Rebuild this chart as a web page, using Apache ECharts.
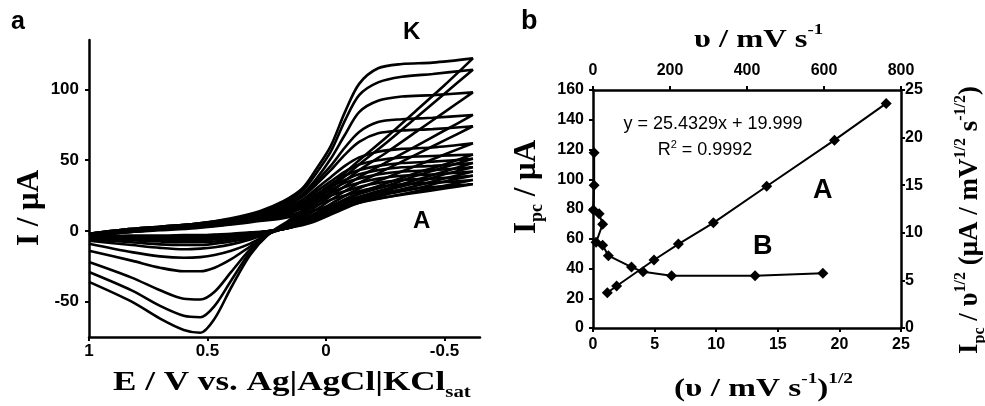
<!DOCTYPE html>
<html><head><meta charset="utf-8">
<script src="https://cdn.jsdelivr.net/npm/echarts@6/dist/echarts.min.js"></script>
<style>html,body{margin:0;padding:0;background:#fff}#c{width:985px;height:406px}</style>
</head><body><div id="c"></div>
<script>
// ---------- Panel a: cyclic voltammograms ----------
const E_fwd = [1.0, 0.85, 0.7, 0.55, 0.4, 0.28, 0.18, 0.1, 0.04, -0.02, -0.08, -0.14, -0.22, -0.32, -0.45, -0.62];
const E_rev = [-0.62, -0.5, -0.38, -0.26, -0.14, -0.04, 0.06, 0.16, 0.24, 0.32, 0.4, 0.47, 0.53, 0.6, 0.7, 0.82, 1.0];
const cvForward = [
  [-2, 1, 3, 5, 9, 14, 21, 30, 44, 60, 84, 104, 115, 118, 119, 122],
  [-2, 1, 3, 5, 8.5, 13, 20, 28, 41, 56, 78, 96, 105, 109, 111, 114],
  [-2, 1, 3, 5, 8, 12, 19, 26, 37, 51, 68, 84, 92, 95, 96, 98],
  [-2, 0.5, 2.5, 4.5, 8, 12, 18, 25, 35, 46, 59, 70, 77, 79, 80, 82],
  [-2, 0.5, 2.5, 4.5, 7.5, 11, 17, 24, 33, 43, 54, 63, 69, 71, 72, 74],
  [-2.5, 0, 2, 4, 7, 11, 16, 22, 30, 38, 46, 52, 56, 58, 59, 62],
  [-2.5, 0, 2, 4, 7, 10, 15, 21, 28, 35, 42, 47, 50, 52, 53, 54],
  [-2.5, 0, 2, 4, 6.5, 10, 15, 20, 26, 33, 39, 43, 46, 48, 49, 51],
  [-3, -0.5, 1.5, 3.5, 6, 9.5, 14, 19, 25, 31, 36, 40, 43, 45, 46, 48],
  [-3, -0.5, 1.5, 3.5, 6, 9, 13, 18, 24, 29, 34, 37, 40, 42, 43, 45],
  [-3, -0.5, 1.5, 3, 5.5, 8.5, 12, 17, 22, 27, 31, 34, 37, 39, 40, 42],
  [-3, -1, 1, 3, 5, 8, 11, 16, 20, 25, 28, 31, 34, 36, 37, 39],
  [-3.5, -1, 1, 2.5, 5, 7.5, 10, 14, 18, 22, 25, 28, 31, 33, 34, 36],
  [-3.5, -1, 0.5, 2, 4.5, 7, 9, 12, 15, 18, 21, 24, 27, 29, 31, 33]
];
const cvReverse = [
  [122, 103, 85, 67, 50, 35, 20, 7, -2, -17, -40, -62, -72, -70, -62, -50, -36],
  [114, 97, 80, 63, 47, 33, 19, 6, -2, -15, -35, -53, -61, -60, -53, -42, -29],
  [98, 84, 70, 56, 43, 30, 17, 5, -2, -13, -29, -43, -48.5, -48, -42, -33, -22],
  [82, 71, 60, 49, 38, 27, 15, 4, -2, -11, -20, -26, -28.5, -28.5, -26, -21, -14],
  [74, 64, 54, 44, 34, 24, 13, 3, -2, -9, -14, -17, -18.5, -19, -18, -15, -9],
  [62, 54, 46, 38, 30, 21, 11, 3, -1.5, -6, -9.5, -11.5, -12.5, -13, -12, -10, -7],
  [54, 47, 41, 34, 27, 19, 10, 3, -1, -5, -7.5, -9, -10, -10, -9.5, -8, -6],
  [51, 45, 39, 32, 26, 18, 9, 2.5, -1, -4, -6, -7.5, -8, -8, -7.5, -6.5, -5],
  [48, 42, 36, 30, 24, 17, 9, 2, -0.5, -3.5, -5, -6, -6.5, -7, -6.5, -6, -5],
  [45, 40, 34, 29, 23, 16, 8, 2, -0.5, -3, -4.5, -5.5, -6, -6, -5.5, -5, -4],
  [42, 37, 32, 27, 22, 15, 8, 2, 0, -2.5, -4, -4.5, -5, -5, -5, -4.5, -4],
  [39, 35, 30, 26, 21, 14, 7, 2, 0, -2, -3, -3.5, -4, -4, -4, -4, -4],
  [36, 32, 28, 24, 20, 14, 7, 2, 0, -1.5, -2.5, -3, -3.5, -3.5, -3.5, -3.5, -4],
  [33, 30, 27, 24, 20, 13, 6, 2, 0, -1, -2, -2.5, -3, -3, -3.5, -3.5, -4]
];
const aTicksX = [1, 0.5, 0, -0.5];
const aTicksY = [-50, 0, 50, 100];

// ---------- Panel b ----------
const sqrtV_A = [1.16, 1.92, 4.95, 6.93, 9.77, 14.1, 19.6, 23.8];
const ipc_A   = [23.7, 28.2, 45.7, 56.4, 70.7, 95.3, 126.3, 151];
const v_B     = [3, 3, 1, 16, 25, 8, 25, 40, 100, 130, 204, 421, 597];
const ipcNorm_B = [18.4, 15.0, 12.4, 12.0, 10.9, 9.0, 8.7, 7.6, 6.4, 5.9, 5.5, 5.5, 5.75];

const SERIF = '"Liberation Serif", "DejaVu Serif", serif';
const SANS = '"Liberation Sans", Arial, sans-serif';
const BLACK = '#000';

const chart = echarts.init(document.getElementById('c'), null, {renderer: 'canvas'});

const cvSeries = cvForward.map((f, i) => ({
  type: 'line', xAxisIndex: 0, yAxisIndex: 0, symbol: 'none', smooth: 0.3,
  lineStyle: {color: BLACK, width: 2.6}, silent: true, animation: false,
  data: E_fwd.map((e, j) => [e, f[j]]).concat(E_rev.slice(1).map((e, j) => [e, cvReverse[i][j + 1]]))
}));

const tickLbl = (size) => ({color: BLACK, fontSize: size, fontWeight: 'bold', fontFamily: SANS});
const axLine = {show: true, onZero: false, lineStyle: {color: BLACK, width: 2.5}};

const rich = (size) => ({
  m: {fontSize: size, fontFamily: SERIF, fontWeight: 'bold', fill: BLACK, color: BLACK, lineHeight: size + 8},
  sup: {fontSize: Math.round(size * 0.58), fontFamily: SERIF, fontWeight: 'bold', fill: BLACK, color: BLACK, verticalAlign: 'top', lineHeight: Math.round(size * 0.6)},
  sub: {fontSize: Math.round(size * 0.58), fontFamily: SERIF, fontWeight: 'bold', fill: BLACK, color: BLACK, verticalAlign: 'bottom', lineHeight: Math.round(size * 0.6)}
});

const option = {
  backgroundColor: '#fff',
  animation: false,
  grid: [
    {left: 89, top: 40, width: 391, height: 297},
    {left: 593, top: 90, width: 308, height: 238}
  ],
  xAxis: [
    {gridIndex: 0, type: 'value', inverse: true, min: -0.65, max: 1,
     axisLine: axLine, splitLine: {show: false},
     axisTick: {customValues: aTicksX, length: 4, lineStyle: {color: BLACK, width: 2}},
     axisLabel: Object.assign({customValues: aTicksX, margin: 6, formatter: v => String(v)}, tickLbl(17))},
    {gridIndex: 1, type: 'value', position: 'bottom', min: 0, max: 25, interval: 5,
     axisLine: axLine, splitLine: {show: false},
     axisTick: {length: 4, lineStyle: {color: BLACK, width: 2}},
     axisLabel: Object.assign({margin: 9}, tickLbl(16))},
    {gridIndex: 1, type: 'value', position: 'top', min: 0, max: 800, interval: 200,
     axisLine: axLine, splitLine: {show: false},
     axisTick: {length: 4, lineStyle: {color: BLACK, width: 2}},
     axisLabel: Object.assign({margin: 11}, tickLbl(16))}
  ],
  yAxis: [
    {gridIndex: 0, type: 'value', min: -75, max: 135,
     axisLine: axLine, splitLine: {show: false},
     axisTick: {customValues: aTicksY, length: 4, lineStyle: {color: BLACK, width: 2}},
     axisLabel: Object.assign({customValues: aTicksY, margin: 10}, tickLbl(17))},
    {gridIndex: 1, type: 'value', position: 'left', min: 0, max: 160, interval: 20,
     axisLine: axLine, splitLine: {show: false},
     axisTick: {length: 4, lineStyle: {color: BLACK, width: 2}},
     axisLabel: Object.assign({margin: 9}, tickLbl(16))},
    {gridIndex: 1, type: 'value', position: 'right', min: 0, max: 25, interval: 5,
     axisLine: axLine, splitLine: {show: false},
     axisTick: {length: 4, lineStyle: {color: BLACK, width: 2}},
     axisLabel: Object.assign({margin: 4}, tickLbl(16))}
  ],
  series: cvSeries.concat([
    {type: 'line', xAxisIndex: 1, yAxisIndex: 1, symbol: 'diamond', symbolSize: 11,
     itemStyle: {color: BLACK}, lineStyle: {color: BLACK, width: 2},
     data: sqrtV_A.map((x, i) => [x, ipc_A[i]])},
    {type: 'line', xAxisIndex: 2, yAxisIndex: 2, symbol: 'diamond', symbolSize: 11,
     itemStyle: {color: BLACK}, lineStyle: {color: BLACK, width: 2},
     data: v_B.map((x, i) => [x, ipcNorm_B[i]])}
  ]),
  graphic: [
    {type: 'text', x: 11, y: 10, style: {text: 'a', font: 'bold 25px ' + SANS, fill: BLACK}},
    {type: 'text', x: 403, y: 20, style: {text: 'K', font: 'bold 24px ' + SANS, fill: BLACK}},
    {type: 'text', x: 413, y: 209, style: {text: 'A', font: 'bold 24px ' + SANS, fill: BLACK}},
    {type: 'text', x: 521, y: 8, style: {text: 'b', font: 'bold 27px ' + SANS, fill: BLACK}},
    {type: 'text', x: 813, y: 177, style: {text: 'A', font: 'bold 27px ' + SANS, fill: BLACK}},
    {type: 'text', x: 753, y: 233, style: {text: 'B', font: 'bold 27px ' + SANS, fill: BLACK}},
    {type: 'text', x: 713, y: 124, style: {text: 'y = 25.4329x + 19.999', font: '18px ' + SANS, fill: BLACK, align: 'center', verticalAlign: 'middle'}},
    {type: 'text', x: 705, y: 150, style: {text: '{m|R}{sup|2}{m| = 0.9992}', align: 'center', verticalAlign: 'middle',
      rich: {m: {font: '18px ' + SANS, fill: BLACK, lineHeight: 22}, sup: {font: '11px ' + SANS, fill: BLACK, verticalAlign: 'top', lineHeight: 11}}}},
    // panel a axis titles
    {type: 'text', x: 30, y: 208, rotation: Math.PI / 2,
     style: {text: 'I / μA', font: 'bold 31px ' + SERIF, fill: BLACK, align: 'center', verticalAlign: 'middle'}},
    {type: 'text', x: 113, y: 383, scaleX: 1.3,
     style: {text: '{m|E / V vs. Ag|AgCl|KCl}{sub|sat}', align: 'left', verticalAlign: 'middle', rich: rich(27)}},
    // panel b axis titles
    {type: 'text', x: 527, y: 187, rotation: Math.PI / 2,
     style: {text: '{m|I}{sub|pc}{m| / μA}', align: 'center', verticalAlign: 'middle', rich: rich(31)}},
    {type: 'text', x: 694, y: 40, scaleX: 1.25,
     style: {text: '{m|υ / mV s}{sup|-1}', align: 'left', verticalAlign: 'middle', rich: rich(26)}},
    {type: 'text', x: 674, y: 389, scaleX: 1.28,
     style: {text: '{m|(υ / mV s}{sup|-1}{m|)}{sup|1/2}', align: 'left', verticalAlign: 'middle', rich: rich(26)}},
    {type: 'text', x: 970, y: 220, rotation: Math.PI / 2,
     style: {text: '{m|I}{sub|pc}{m| / υ}{sup|1/2}{m| (μA / mV}{sup|1/2}{m| s}{sup|-1/2}{m|)}', align: 'center', verticalAlign: 'middle', rich: rich(27)}}
  ]
};
chart.setOption(option);
</script></body></html>
